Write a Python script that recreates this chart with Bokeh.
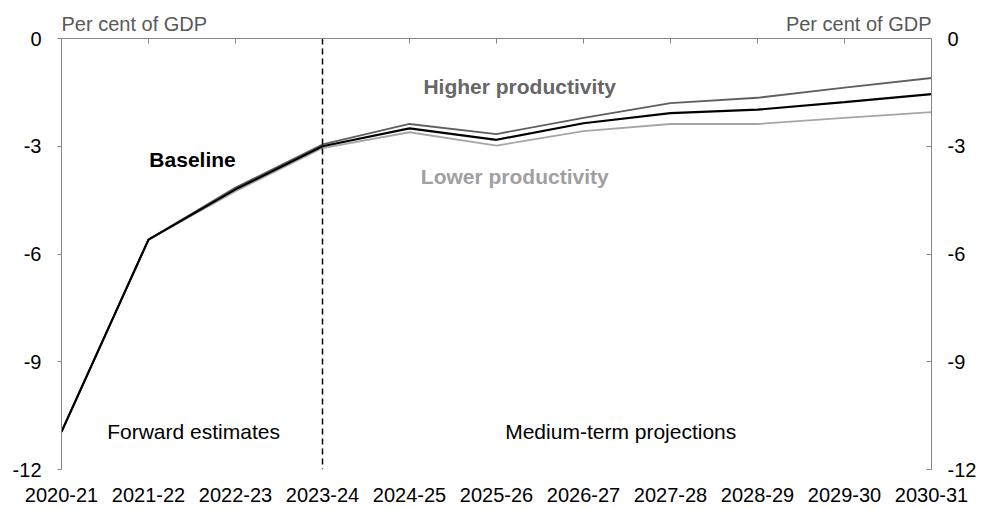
from bokeh.plotting import figure
from bokeh.models import (Range1d, LinearAxis, FixedTicker, Span, Label)
from bokeh.embed import file_html
from bokeh.resources import INLINE

years = ["2020-21", "2021-22", "2022-23", "2023-24", "2024-25", "2025-26",
         "2026-27", "2027-28", "2028-29", "2029-30", "2030-31"]
baseline = [-10.95, -5.6, -4.2, -3.0, -2.5, -2.82, -2.36, -2.08, -1.98, -1.77, -1.55]
higher = [-10.95, -5.6, -4.15, -2.95, -2.38, -2.66, -2.21, -1.80, -1.65, -1.37, -1.10]
lower = [-10.95, -5.6, -4.25, -3.05, -2.61, -2.98, -2.58, -2.38, -2.38, -2.21, -2.05]
y_ticks = [0, -3, -6, -9, -12]
y_tick_labels = ["0", "-3", "-6", "-9", "-12"]

FONT = "Liberation Sans"
AXIS_GREY = "#868686"
xs = list(range(len(years)))

p = figure(frame_width=870, frame_height=465,
           min_border_left=61, min_border_right=51, min_border_top=4, min_border_bottom=39,
           x_range=Range1d(0, len(years) - 1), y_range=Range1d(-12, 0.947),
           output_backend="svg", toolbar_location=None, x_axis_location=None, y_axis_location=None)
p.outline_line_color = None
p.grid.visible = False
p.background_fill_color = "white"
p.border_fill_color = "white"

# Left and right value axes
la = LinearAxis(ticker=FixedTicker(ticks=y_ticks), bounds=(-12, 0))
ra = LinearAxis(ticker=FixedTicker(ticks=y_ticks), bounds=(-12, 0))
for ax in (la, ra):
    ax.axis_line_color = AXIS_GREY
    ax.major_tick_line_color = AXIS_GREY
    ax.minor_tick_line_color = None
    ax.major_label_text_font = FONT
    ax.major_label_text_font_size = "20px"
    ax.major_label_text_color = "black"
    ax.major_label_overrides = dict(zip(y_ticks, y_tick_labels))
la.major_tick_out = 4
la.major_tick_in = 0
la.major_label_standoff = 16
ra.major_tick_out = 0
ra.major_tick_in = 5
ra.major_label_standoff = 16
p.add_layout(la, "left")
p.add_layout(ra, "right")

# Category axis line at zero with short downward ticks
p.add_layout(Span(location=0, dimension="width", line_color=AXIS_GREY, line_width=1))
p.segment(x0=xs, y0=[0] * len(xs), x1=xs, y1=[-0.14] * len(xs),
          line_color=AXIS_GREY, line_width=1)

# Bottom category labels
ba = LinearAxis(ticker=FixedTicker(ticks=xs))
ba.major_label_overrides = {i: y for i, y in enumerate(years)}
ba.axis_line_color = None
ba.major_tick_line_color = None
ba.minor_tick_line_color = None
ba.major_label_text_font = FONT
ba.major_label_text_font_size = "20px"
ba.major_label_text_color = "black"
ba.major_label_standoff = 12
p.add_layout(ba, "below")

# Lines
p.line(xs, lower, line_color="#a6a6a6", line_width=1.8)
p.line(xs, higher, line_color="#5f5f5f", line_width=1.8)
p.line(xs, baseline, line_color="black", line_width=2.2)

# Divider between forward estimates and projections
p.segment(x0=[3], y0=[0], x1=[3], y1=[-12], line_color="black",
          line_width=1.5, line_dash="6 4")

def lab(x, y, text, color="black", bold=False, align="left", size="21px"):
    p.add_layout(Label(x=x, y=y, text=text, text_font=FONT, text_font_size=size,
                       text_color=color, text_font_style="bold" if bold else "normal",
                       text_align=align, text_baseline="alphabetic"))

lab(1.01, -3.38, "Baseline", bold=True)
lab(4.16, -1.35, "Higher productivity", color="#666666", bold=True)
lab(4.13, -3.85, "Lower productivity", color="#a0a0a0", bold=True)
lab(0.525, -10.94, "Forward estimates")
lab(5.10, -10.94, "Medium-term projections")

lab(0, 0.41, "Per cent of GDP", color="#595959", size="20px")
lab(10, 0.41, "Per cent of GDP", color="#595959", align="right", size="20px")

open("out.html", "w").write(file_html(p, INLINE))
